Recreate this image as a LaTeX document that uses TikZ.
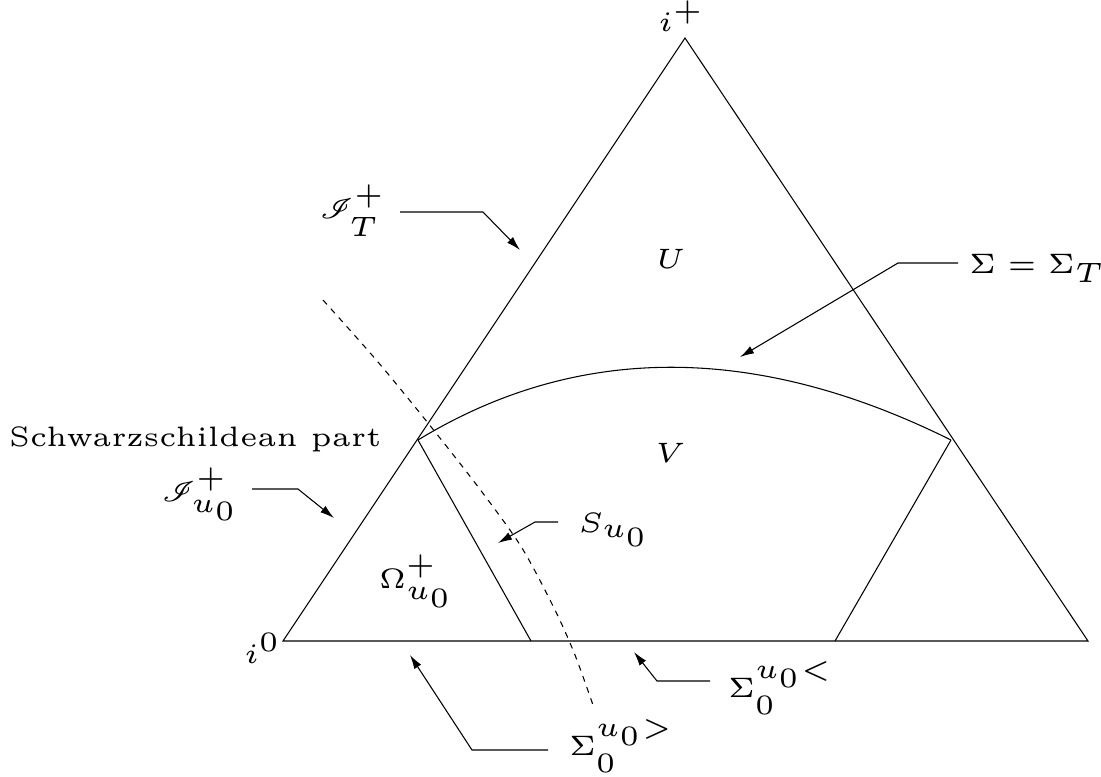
\documentclass[tikz,border=0pt]{standalone}
\usepackage{mathrsfs}
\usetikzlibrary{arrows.meta}
\begin{document}
\begin{tikzpicture}[x=0.178pt,y=-0.178pt,
  lbl/.style={anchor=base west,inner sep=0pt,font=\fontsize{5}{6}\selectfont},
  ln/.style={line width=0.19pt},
  ptr/.style={ln,-{Latex[length=2.5pt,width=1.45pt]}},
  dsh/.style={ln,dash pattern=on 1.05pt off 1.05pt}]
\useasboundingbox (0,0) rectangle (1101,776);
% triangle
\coordinate (top) at (685,38);
\coordinate (bl) at (283,641);
\coordinate (br) at (1088,641);
\draw[ln] (bl) -- (top) -- (br) -- cycle;
% spacelike surface Sigma and inner null lines
\coordinate (sl) at (418,440);
\coordinate (sr) at (951,440);
\coordinate (ll) at (531,641);
\coordinate (rl) at (835,641);
\draw[ln] (sl) .. controls (577,343) and (756,343) .. (sr);
\draw[ln] (sl) -- (ll);
\draw[ln] (sr) -- (rl);
% dashed curve
\draw[dsh] plot[smooth] coordinates {(323,300) (378,362) (432,428) (482,492) (522,548) (555,610) (575,655) (593,705)};
% labels
\node[lbl] (ip) at (657,31) {$i^+$};
\node[lbl] (i0) at (243,663) {$i^0$};
\node[lbl] (U) at (655,268) {$U$};
\node[lbl] (V) at (654,462) {$V$};
\node[lbl] (Om) at (378,588) {$\Omega^+_{u_0}$};
\node[lbl] (S) at (577,532) {$S_{u_0}$};
\node[lbl] (scrT) at (318,218) {$\mathscr{I}^+_T$};
\node[lbl] (Sig) at (968,273) {$\Sigma=\Sigma_T$};
\node[lbl] (sch) at (8,446) {Schwarzschildean part};
\node[lbl] (scru) at (160,501) {$\mathscr{I}^+_{u_0}$};
\node[lbl] (Sl) at (727,697) {$\Sigma_0^{u_0<}$};
\node[lbl] (Sg) at (568,755) {$\Sigma_0^{u_0>}$};
% pointer arrows
\coordinate (a1) at (400,212); \coordinate (a2) at (483,212); \coordinate (a3) at (520,250);
\draw[ptr] (a1) -- (a2) -- (a3);
\coordinate (b1) at (958,263); \coordinate (b2) at (898,263); \coordinate (b3) at (740,357);
\draw[ptr] (b1) -- (b2) -- (b3);
\coordinate (c1) at (252,489); \coordinate (c2) at (298,489); \coordinate (c3) at (334,518);
\draw[ptr] (c1) -- (c2) -- (c3);
\coordinate (d1) at (558,522); \coordinate (d2) at (535,522); \coordinate (d3) at (498,543);
\draw[ptr] (d1) -- (d2) -- (d3);
\coordinate (e1) at (710,681); \coordinate (e2) at (657,681); \coordinate (e3) at (634,652);
\draw[ptr] (e1) -- (e2) -- (e3);
\coordinate (f1) at (548,750); \coordinate (f2) at (472,750); \coordinate (f3) at (410,655);
\draw[ptr] (f1) -- (f2) -- (f3);
\end{tikzpicture}
\end{document}
